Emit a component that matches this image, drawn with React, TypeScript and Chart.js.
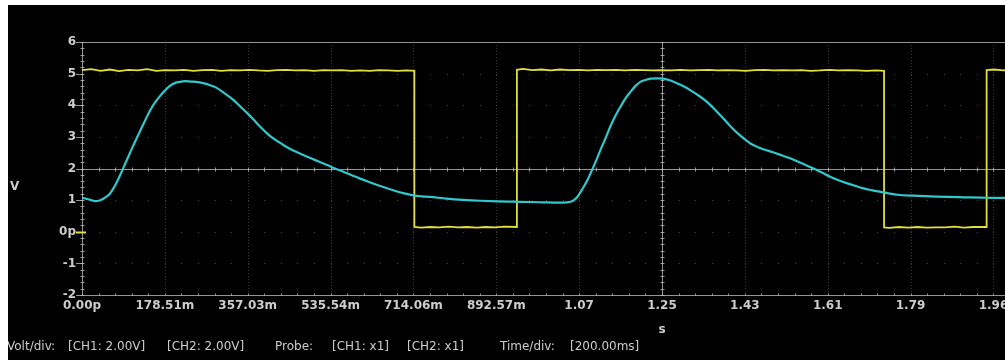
import React, { useEffect, useRef } from "react";
import { Chart, registerables } from "chart.js";
Chart.register(...registerables);

// ---- axis ticks ----
const xTickValues = [0, 0.17851, 0.35703, 0.53554, 0.71406, 0.89257, 1.07109, 1.2496, 1.42812, 1.60663, 1.78514, 1.96366, 2.14217, 2.32069, 2.4992];
const xTickLabels = ["0.00p", "178.51m", "357.03m", "535.54m", "714.06m", "892.57m", "1.07", "1.25", "1.43", "1.61", "1.79", "1.96", "2.14", "2.32", "2.50"];
const yTickValues = [-2, -1, 0, 1, 2, 3, 4, 5, 6];
const yTickLabels = ["-2", "-1", "0p", "1", "2", "3", "4", "5", "6"];
const ySolidLines = [-2, 2, 6];
const xSolidIdx = [0, 7];

// ---- CH2 (cyan) trace: time (s), volts ----
const cyanTime = [
  0.000, 0.010, 0.020, 0.028, 0.036, 0.044, 0.052, 0.060, 0.068, 0.076,
  0.084, 0.093, 0.103, 0.114, 0.125, 0.136, 0.147, 0.157, 0.168, 0.179,
  0.190, 0.200, 0.211, 0.222, 0.234, 0.246, 0.261, 0.276, 0.290, 0.305,
  0.326, 0.341, 0.356, 0.370, 0.384, 0.398, 0.412, 0.427, 0.441, 0.455,
  0.473, 0.492, 0.510, 0.528, 0.545, 0.563, 0.581, 0.599, 0.617, 0.636,
  0.654, 0.671, 0.692, 0.714, 0.732, 0.750, 0.785, 0.821, 0.858, 0.895,
  0.930, 0.966, 0.995, 1.024, 1.045, 1.058, 1.067, 1.078, 1.089, 1.096,
  1.102, 1.110, 1.117, 1.128, 1.138, 1.149, 1.160, 1.171, 1.182, 1.193,
  1.203, 1.214, 1.225, 1.240, 1.253, 1.268, 1.283, 1.297, 1.311, 1.329,
  1.347, 1.364, 1.382, 1.400, 1.419, 1.430, 1.440, 1.454, 1.468, 1.487,
  1.505, 1.524, 1.542, 1.559, 1.576, 1.594, 1.612, 1.630, 1.649, 1.666,
  1.684, 1.703, 1.721, 1.739, 1.757, 1.792, 1.828, 1.865, 1.900, 1.936,
  1.970, 2.000, 2.040,
];
const cyanVolt = [
  1.08, 1.04, 1.00, 0.97, 0.98, 1.03, 1.10, 1.20, 1.38, 1.60,
  1.85, 2.15, 2.48, 2.84, 3.18, 3.52, 3.84, 4.08, 4.29, 4.47,
  4.62, 4.70, 4.74, 4.76, 4.75, 4.74, 4.70, 4.63, 4.55, 4.40,
  4.17, 3.96, 3.75, 3.54, 3.32, 3.12, 2.95, 2.81, 2.68, 2.57,
  2.45, 2.33, 2.22, 2.11, 2.00, 1.90, 1.79, 1.68, 1.58, 1.48,
  1.39, 1.31, 1.22, 1.15, 1.12, 1.10, 1.05, 1.01, 0.98, 0.96,
  0.95, 0.94, 0.93, 0.92, 0.93, 0.98, 1.10, 1.35, 1.64, 1.86,
  2.06, 2.33, 2.59, 2.96, 3.32, 3.66, 3.95, 4.22, 4.43, 4.62,
  4.74, 4.80, 4.84, 4.85, 4.84, 4.78, 4.69, 4.59, 4.47, 4.30,
  4.10, 3.86, 3.58, 3.29, 3.03, 2.90, 2.79, 2.69, 2.61, 2.52,
  2.43, 2.33, 2.22, 2.11, 2.00, 1.87, 1.74, 1.63, 1.53, 1.45,
  1.37, 1.31, 1.26, 1.21, 1.17, 1.14, 1.12, 1.10, 1.09, 1.08,
  1.07, 1.07, 1.07,
];

// ---- CH1 (yellow) square wave: time (s), volts ----
const yellowTime = [
  0.000, 0.020, 0.040, 0.060, 0.080, 0.100, 0.120, 0.140, 0.160, 0.180,
  0.200, 0.220, 0.240, 0.260, 0.280, 0.300, 0.320, 0.340, 0.360, 0.380,
  0.400, 0.420, 0.440, 0.460, 0.480, 0.500, 0.520, 0.540, 0.560, 0.580,
  0.600, 0.620, 0.640, 0.660, 0.680, 0.700, 0.716,
  0.716, 0.730, 0.750, 0.770, 0.790, 0.810, 0.830, 0.850, 0.870, 0.890, 0.910, 0.937,
  0.937, 0.950, 0.970, 0.990, 1.010, 1.030, 1.050, 1.070, 1.090, 1.110,
  1.130, 1.150, 1.170, 1.190, 1.210, 1.230, 1.250, 1.270, 1.290, 1.310,
  1.330, 1.350, 1.370, 1.390, 1.410, 1.430, 1.450, 1.470, 1.490, 1.510,
  1.530, 1.550, 1.570, 1.590, 1.610, 1.630, 1.650, 1.670, 1.690, 1.710, 1.728,
  1.728, 1.740, 1.760, 1.780, 1.800, 1.820, 1.840, 1.860, 1.880, 1.900, 1.920, 1.949,
  1.949, 1.965, 1.985, 2.005, 2.025, 2.045,
];
const yellowVolt = [
  5.11, 5.14, 5.09, 5.13, 5.08, 5.12, 5.10, 5.14, 5.09, 5.11,
  5.10, 5.12, 5.09, 5.11, 5.12, 5.09, 5.11, 5.10, 5.12, 5.10,
  5.09, 5.11, 5.12, 5.10, 5.11, 5.09, 5.11, 5.10, 5.11, 5.09,
  5.10, 5.09, 5.11, 5.10, 5.09, 5.10, 5.09,
  0.15, 0.13, 0.15, 0.14, 0.16, 0.14, 0.15, 0.13, 0.15, 0.14, 0.16, 0.15,
  5.12, 5.15, 5.11, 5.13, 5.10, 5.13, 5.11, 5.12, 5.10, 5.12,
  5.11, 5.12, 5.10, 5.12, 5.11, 5.10, 5.11, 5.10, 5.12, 5.10,
  5.11, 5.12, 5.10, 5.11, 5.10, 5.09, 5.11, 5.12, 5.10, 5.11,
  5.10, 5.11, 5.09, 5.10, 5.12, 5.10, 5.11, 5.10, 5.09, 5.10, 5.09,
  0.14, 0.12, 0.15, 0.13, 0.15, 0.13, 0.14, 0.14, 0.16, 0.13, 0.15, 0.15,
  5.11, 5.13, 5.10, 5.12, 5.10, 5.11,
];

const infoTexts: [string, number][] = [
  ["Volt/div:", -1],
  ["[CH1: 2.00V]", 60],
  ["[CH2: 2.00V]", 159],
  ["Probe:", 267],
  ["[CH1: x1]", 324],
  ["[CH2: x1]", 399],
  ["Time/div:", 492],
  ["[200.00ms]", 562],
];

const FONT = "'DejaVu Sans', Verdana, sans-serif";
const TEXT_COLOR = "rgb(205,205,205)";

const scopeGrid = {
  id: "scopeGrid",
  beforeDatasetsDraw(chart: any) {
    const { ctx, chartArea, scales } = chart;
    const { left, right, top, bottom } = chartArea;
    const xs = scales.x;
    const ys = scales.y;
    const solid = "rgba(185,185,185,0.8)";
    const faint = "rgba(140,140,140,0.5)";
    const xMinor = (xTickValues[1] - xTickValues[0]) / 5;
    ctx.save();
    ctx.lineWidth = 1;
    yTickValues.forEach((v) => {
      const py = Math.round(ys.getPixelForValue(v)) + 0.5;
      if (ySolidLines.includes(v)) {
        ctx.strokeStyle = solid;
        ctx.beginPath();
        ctx.moveTo(left, py);
        ctx.lineTo(right, py);
        ctx.stroke();
      } else {
        ctx.fillStyle = faint;
        for (let t = 0; t <= xs.max + 1e-6; t += xMinor) {
          const px = Math.round(xs.getPixelForValue(t));
          ctx.fillRect(px, py - 0.5, 1, 1);
        }
      }
    });
    xTickValues.forEach((v, i) => {
      const px = Math.round(xs.getPixelForValue(v)) + 0.5;
      if (xSolidIdx.includes(i)) {
        ctx.strokeStyle = solid;
        ctx.beginPath();
        ctx.moveTo(px, top);
        ctx.lineTo(px, bottom);
        ctx.stroke();
      } else {
        ctx.fillStyle = "rgba(120,120,120,0.45)";
        for (let y = top; y <= bottom; y += 3) {
          ctx.fillRect(px - 0.5, y, 1, 1);
        }
      }
    });
    ctx.strokeStyle = solid;
    [2, -2].forEach((v) => {
      const py = Math.round(ys.getPixelForValue(v)) + 0.5;
      for (let t = 0; t <= xs.max + 1e-6; t += xMinor) {
        const px = Math.round(xs.getPixelForValue(t)) + 0.5;
        ctx.beginPath();
        ctx.moveTo(px, py - 2);
        ctx.lineTo(px, v === 2 ? py + 2 : py);
        ctx.stroke();
      }
    });
    [0, 7].forEach((i) => {
      const px = Math.round(xs.getPixelForValue(xTickValues[i])) + 0.5;
      for (let v = -2; v <= 6.0001; v += 0.2) {
        const py = Math.round(ys.getPixelForValue(v)) + 0.5;
        ctx.beginPath();
        ctx.moveTo(px - 2, py);
        ctx.lineTo(px + 2, py);
        ctx.stroke();
      }
    });
    yTickValues.forEach((v) => {
      const py = Math.round(ys.getPixelForValue(v)) + 0.5;
      ctx.strokeStyle = v === 0 ? "rgb(225,222,60)" : solid;
      ctx.lineWidth = v === 0 ? 2 : 1;
      ctx.beginPath();
      ctx.moveTo(left - 6, py);
      ctx.lineTo(v === 0 ? left + 4 : left, py);
      ctx.stroke();
    });
    ctx.restore();
  },
};

export default function App() {
  const ref = useRef<HTMLCanvasElement | null>(null);

  useEffect(() => {
    if (!ref.current) return;
    const chart = new Chart(ref.current, {
      type: "line",
      data: {
        datasets: [
          {
            label: "CH2",
            data: cyanTime.map((t, i) => ({ x: t, y: cyanVolt[i] })),
            borderColor: "rgb(48,200,204)",
            borderWidth: 2.2,
            pointRadius: 0,
            cubicInterpolationMode: "monotone",
          },
          {
            label: "CH1",
            data: yellowTime.map((t, i) => ({ x: t, y: yellowVolt[i] })),
            borderColor: "rgb(226,222,58)",
            borderWidth: 1.8,
            pointRadius: 0,
            tension: 0,
          },
        ],
      },
      options: {
        responsive: false,
        animation: false,
        devicePixelRatio: 1,
        layout: { padding: { left: 0, top: 37, right: 66, bottom: 0 } },
        plugins: {
          legend: { display: false },
          tooltip: { enabled: false },
        },
        scales: {
          x: {
            type: "linear",
            min: 0,
            max: xTickValues[xTickValues.length - 1],
            afterBuildTicks: (scale: any) => {
              scale.ticks = xTickValues.map((v) => ({ value: v }));
            },
            afterFit: (scale: any) => {
              scale.height = 65;
            },
            ticks: {
              autoSkip: false,
              maxRotation: 0,
              padding: 4,
              color: TEXT_COLOR,
              font: { family: FONT, size: 12, weight: "bold" },
              callback: (_v: any, i: number) => xTickLabels[i],
            },
            grid: { display: false, drawTicks: false },
            border: { display: false },
            title: {
              display: true,
              text: "s",
              color: TEXT_COLOR,
              font: { family: FONT, size: 12, weight: "bold" },
              padding: { top: 0, bottom: 23 },
            },
          },
          y: {
            type: "linear",
            min: -2,
            max: 6,
            afterBuildTicks: (scale: any) => {
              scale.ticks = yTickValues.map((v) => ({ value: v }));
            },
            afterFit: (scale: any) => {
              scale.width = 74;
            },
            ticks: {
              autoSkip: false,
              padding: 6,
              color: TEXT_COLOR,
              font: { family: FONT, size: 12, weight: "bold" },
              callback: (_v: any, i: number) => yTickLabels[i],
            },
            grid: { display: false, drawTicks: false },
            border: { display: false },
          },
        },
      } as any,
      plugins: [scopeGrid],
    });
    return () => chart.destroy();
  }, []);

  return (
    <div
      style={{
        position: "fixed",
        left: 8,
        top: 5,
        width: 997,
        height: 355,
        background: "#000",
        overflow: "hidden",
        fontFamily: FONT,
      }}
    >
      <canvas ref={ref} width={1300} height={355} style={{ display: "block", width: 1300, height: 355 }} />
      <div
        style={{
          position: "absolute",
          left: 2,
          top: 174,
          color: TEXT_COLOR,
          fontSize: 12,
          fontWeight: "bold",
          lineHeight: "14px",
        }}
      >
        V
      </div>
      {infoTexts.map(([txt, x]) => (
        <div
          key={txt + x}
          style={{
            position: "absolute",
            left: x,
            top: 334,
            color: TEXT_COLOR,
            fontSize: 12,
            lineHeight: "15px",
            whiteSpace: "pre",
          }}
        >
          {txt}
        </div>
      ))}
    </div>
  );
}
